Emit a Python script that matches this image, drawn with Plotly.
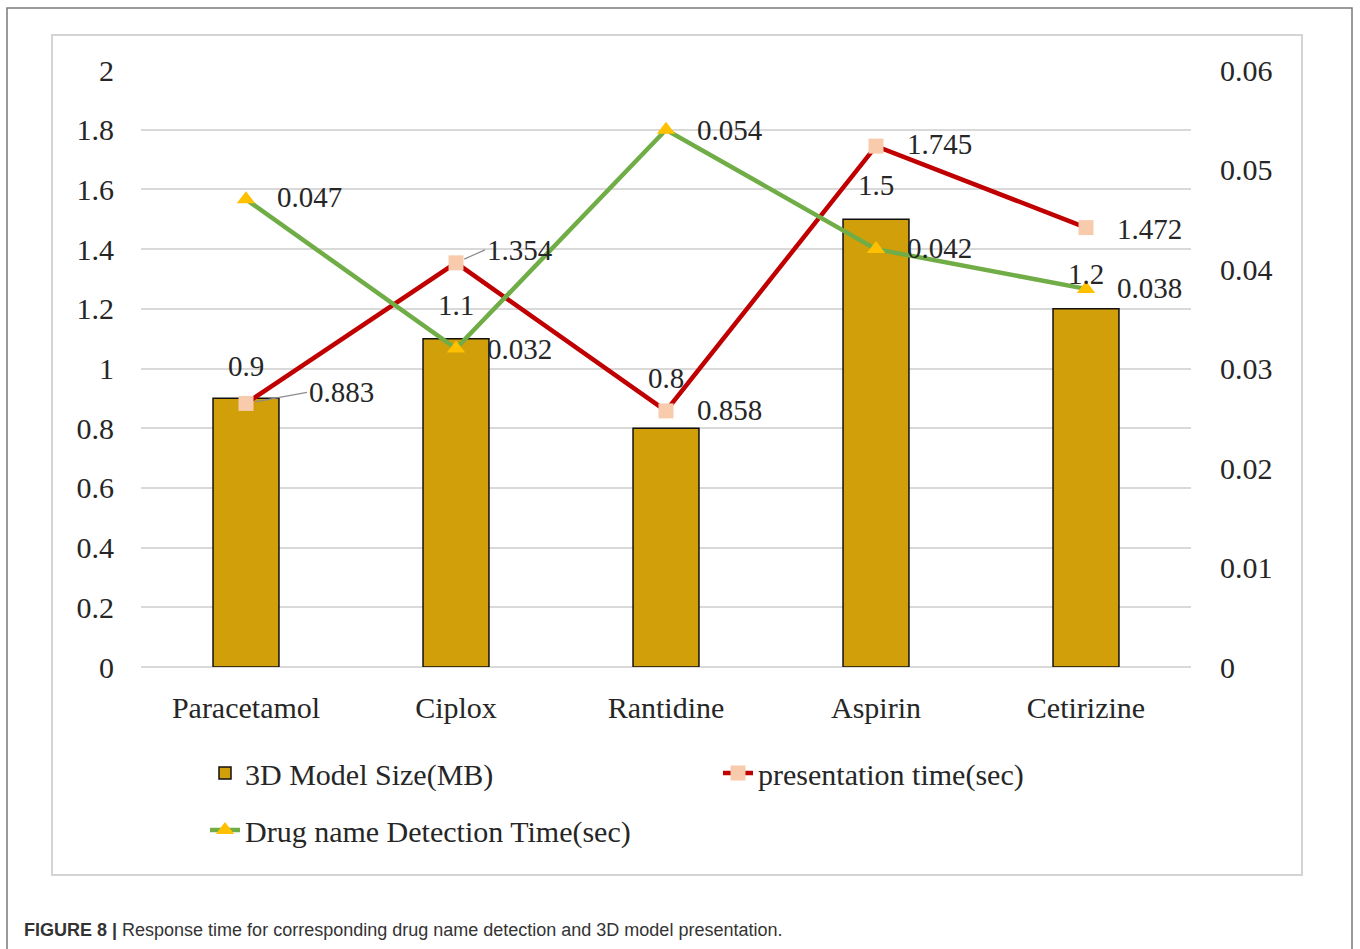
import plotly.graph_objects as go

categories = ["Paracetamol", "Ciplox", "Rantidine", "Aspirin", "Cetirizine"]
model_size_mb = [0.9, 1.1, 0.8, 1.5, 1.2]
presentation_time = [0.883, 1.354, 0.858, 1.745, 1.472]
detection_time = [0.047, 0.032, 0.054, 0.042, 0.038]

left_ticks = [0, 0.2, 0.4, 0.6, 0.8, 1, 1.2, 1.4, 1.6, 1.8, 2]
right_ticks = [0, 0.01, 0.02, 0.03, 0.04, 0.05, 0.06]

W, H = 1360, 949
L, R, T, B = 141, 169, 70, 282
PW, PH = W - L - R, H - T - B


def px(x):
    return (x - L) / PW


def py(y):
    return (H - B - y) / PH


SERIF = "Liberation Serif, Times New Roman, serif"
TXT = "#262626"
FS = 30

fig = go.Figure()
fig.add_trace(go.Bar(
    x=categories, y=model_size_mb, name="3D Model Size(MB)",
    marker=dict(color="#D19F0A", line=dict(color="#111111", width=1.5)),
    width=0.314, legend="legend",
))
fig.add_trace(go.Scatter(
    x=categories, y=presentation_time, name="presentation time(sec)",
    mode="lines+markers",
    line=dict(color="#C00000", width=4.5),
    marker=dict(symbol="square", size=15, color="#F8CBAD"),
    legend="legend",
))
fig.add_trace(go.Scatter(
    x=categories, y=detection_time, name="Drug name Detection Time(sec)",
    mode="lines+markers", yaxis="y2",
    line=dict(color="#70AD47", width=4.5),
    marker=dict(symbol="triangle-up", size=16, color="#FFC000"),
    legend="legend2",
))

annotations = []
lab_font = dict(family=SERIF, size=FS - 1, color=TXT)
# bar value labels
bar_dy = [32, 34, 50, 34, 35]
for c, v, dy in zip(categories, model_size_mb, bar_dy):
    annotations.append(dict(x=c, y=v, xref="x", yref="y", text=f"{v:g}",
                            showarrow=False, xanchor="center", yanchor="middle",
                            yshift=dy, font=lab_font))
# presentation labels
pres_off = [(61, -11, True), (29, -13, True), (29, -1, False), (29, -2, False), (29, 1, False)]
for c, v, (dx, dy, leader) in zip(categories, presentation_time, pres_off):
    if leader:
        annotations.append(dict(x=c, y=v, xref="x", yref="y", text=f"{v:.3f}",
                                showarrow=True, arrowhead=0, arrowwidth=1.2,
                                arrowcolor="#8c8c8c", ax=dx, ay=dy, standoff=9,
                                xanchor="left", yanchor="middle", font=lab_font))
    else:
        annotations.append(dict(x=c, y=v, xref="x", yref="y", text=f"{v:.3f}",
                                showarrow=False, xanchor="left", yanchor="middle",
                                xshift=dx, yshift=-dy, font=lab_font))
# detection labels
det_off = [2, 0, 0, 1, 1]
for c, v, dy in zip(categories, detection_time, det_off):
    annotations.append(dict(x=c, y=v, xref="x", yref="y2", text=f"{v:.3f}",
                            showarrow=False, xanchor="left", yanchor="middle",
                            xshift=29, yshift=dy, font=lab_font))
# caption
annotations.append(dict(
    xref="paper", yref="paper", x=px(22), y=py(930), xanchor="left", yanchor="middle",
    showarrow=False,
    text="<b>FIGURE 8 |</b> Response time for corresponding drug name detection and 3D model presentation.",
    font=dict(family="Liberation Sans, Arial, sans-serif", size=18, color="#333333"),
))

shapes = [
    # inner chart box
    dict(type="rect", xref="paper", yref="paper", x0=px(52), x1=px(1302), y0=py(875), y1=py(35),
         line=dict(color="#D4D4D4", width=2), fillcolor="rgba(0,0,0,0)", layer="below"),
    # outer frame
    dict(type="path", xref="paper", yref="paper",
         path=f"M {px(7)},{py(990)} L {px(7)},{py(8)} L {px(1352)},{py(8)} L {px(1352)},{py(990)}",
         line=dict(color="#7a7a7a", width=1.5)),
]

fig.update_layout(
    width=W, height=H,
    margin=dict(l=L, r=R, t=T, b=B, pad=0),
    paper_bgcolor="white", plot_bgcolor="white",
    font=dict(family=SERIF, size=FS, color=TXT),
    bargap=0.3,
    xaxis=dict(type="category", showgrid=False, showline=False, zeroline=False,
               ticks="", ticklabelstandoff=20, tickfont=dict(family=SERIF, size=FS, color=TXT)),
    yaxis=dict(range=[0, 2], tickvals=left_ticks, showgrid=True, gridcolor="#D9D9D9", gridwidth=2,
               zeroline=True, zerolinecolor="#D9D9D9", zerolinewidth=2, showline=False,
               ticks="", ticklabelstandoff=26, tickfont=dict(family=SERIF, size=FS, color=TXT)),
    yaxis2=dict(range=[0, 0.06], tickvals=right_ticks, overlaying="y", side="right",
                showgrid=False, zeroline=False, showline=False, ticks="",
                ticklabelstandoff=28, tickfont=dict(family=SERIF, size=FS, color=TXT)),
    legend=dict(orientation="h", x=px(205), y=py(773), xanchor="left", yanchor="middle",
                font=dict(family=SERIF, size=FS, color=TXT), bgcolor="rgba(0,0,0,0)",
                entrywidth=468, entrywidthmode="pixels", itemclick=False),
    legend2=dict(orientation="h", x=px(205), y=py(830), xanchor="left", yanchor="middle",
                 font=dict(family=SERIF, size=FS, color=TXT), bgcolor="rgba(0,0,0,0)"),
    annotations=annotations,
    shapes=shapes,
    showlegend=True,
)

fig.write_html("out.html")
